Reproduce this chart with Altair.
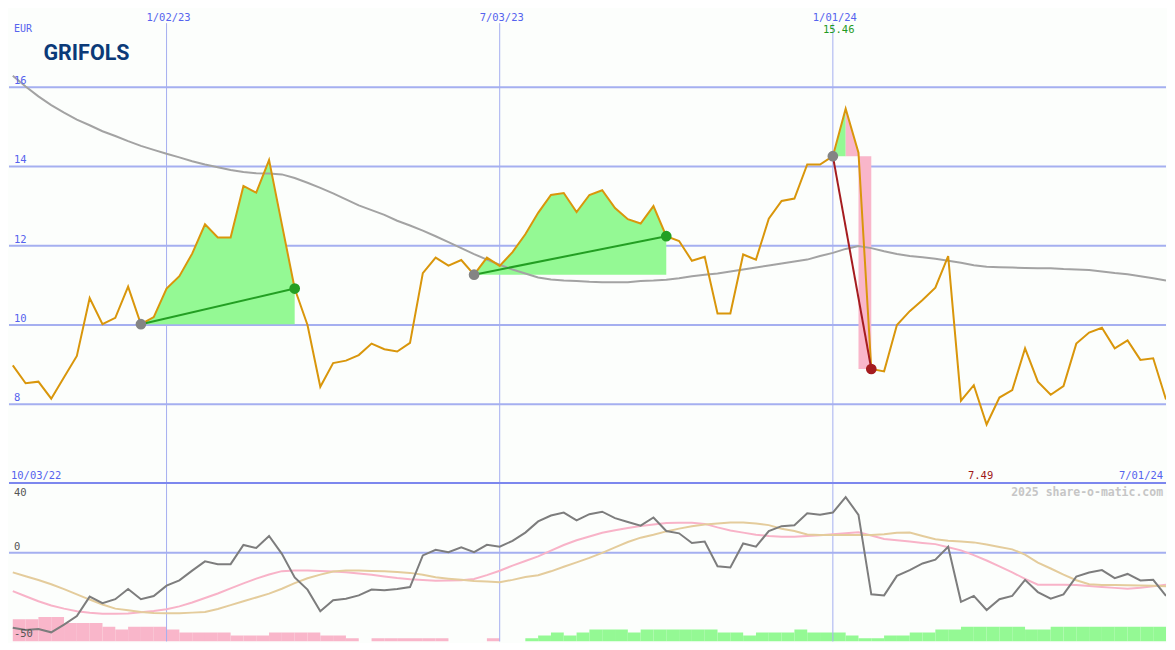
import altair as alt
import pandas as pd

# ------------------------------------------------------------------ data
first_week = "2022-10-10"          # weekly closes, one per Monday
price = [8.98, 8.53, 8.57, 8.14, 8.68, 9.22, 10.68, 10.02, 10.18, 10.97,
         10.02, 10.20, 10.92, 11.23, 11.80, 12.54, 12.21, 12.21, 13.51, 13.34,
         14.16, 12.54, 10.92, 10.00, 8.44, 9.04, 9.10, 9.24, 9.53, 9.39,
         9.33, 9.55, 11.31, 11.70, 11.50, 11.64, 11.27, 11.70, 11.49, 11.84,
         12.29, 12.83, 13.28, 13.33, 12.85, 13.28, 13.40, 12.95, 12.67, 12.56,
         13.00, 12.24, 12.12, 11.62, 11.72, 10.29, 10.29, 11.78, 11.65, 12.68,
         13.13, 13.19, 14.05, 14.05, 14.26, 15.46, 14.35, 8.89, 8.83, 10.00,
         10.35, 10.63, 10.94, 11.74, 8.09, 8.48, 7.49, 8.17, 8.36, 9.41,
         8.57, 8.24, 8.46, 9.53, 9.81, 9.93, 9.41, 9.61, 9.12, 9.16,
         8.12]
long_ma = [16.29, 16.02, 15.77, 15.55, 15.36, 15.18, 15.04, 14.89, 14.77, 14.64,
           14.52, 14.42, 14.32, 14.23, 14.13, 14.05, 13.98, 13.91, 13.86, 13.83,
           13.82, 13.80, 13.71, 13.59, 13.46, 13.32, 13.17, 13.02, 12.90, 12.78,
           12.63, 12.51, 12.38, 12.24, 12.09, 11.94, 11.79, 11.65, 11.52, 11.40,
           11.30, 11.20, 11.15, 11.12, 11.11, 11.09, 11.08, 11.08, 11.08, 11.11,
           11.12, 11.14, 11.18, 11.23, 11.27, 11.30, 11.35, 11.40, 11.45, 11.50,
           11.55, 11.60, 11.65, 11.74, 11.82, 11.92, 11.99, 11.94, 11.86, 11.79,
           11.74, 11.71, 11.67, 11.62, 11.57, 11.51, 11.47, 11.46, 11.45, 11.44,
           11.43, 11.43, 11.41, 11.40, 11.39, 11.35, 11.31, 11.28, 11.23, 11.18,
           11.12]
oscillator = [-43.0, -44.3, -43.7, -45.6, -41.2, -36.3, -25.1, -28.9, -26.6, -20.7,
              -26.6, -24.8, -18.8, -15.8, -10.2, -4.9, -6.5, -6.5, 4.5, 2.8,
              9.7, -0.6, -14.1, -21.1, -33.5, -27.2, -26.3, -24.4, -21.1, -21.4,
              -20.7, -19.6, -1.5, 1.7, 0.4, 3.2, 0.4, 4.6, 3.5, 6.9,
              11.6, 18.0, 21.4, 23.1, 18.6, 22.2, 23.6, 19.9, 17.7, 15.6,
              20.3, 12.5, 11.2, 5.6, 6.5, -7.7, -8.4, 5.4, 3.5, 12.5,
              15.3, 15.8, 22.7, 21.8, 23.1, 32.0, 21.8, -23.8, -24.4, -13.2,
              -9.9, -6.1, -3.9, 3.5, -28.1, -24.7, -32.8, -26.6, -24.7, -15.5,
              -22.5, -26.3, -23.8, -13.6, -11.3, -9.9, -14.5, -12.1, -15.8, -15.5,
              -24.7]
fast_avg = [-22.0, -24.9, -27.8, -30.2, -32.0, -33.5, -34.4, -35.0, -35.0, -34.8,
            -34.1, -33.4, -32.4, -30.7, -28.5, -25.9, -23.3, -20.4, -17.5, -14.8,
            -12.4, -10.5, -10.1, -10.2, -10.4, -10.7, -11.1, -11.9, -12.6, -13.6,
            -14.5, -15.2, -15.6, -16.0, -15.9, -15.7, -15.0, -12.8, -10.3, -7.3,
            -4.7, -2.0, 1.3, 4.5, 7.2, 9.4, 11.5, 12.9, 14.3, 15.4,
            16.3, 17.1, 17.2, 17.2, 16.6, 14.6, 12.8, 11.6, 10.4, 9.6,
            9.2, 9.2, 9.6, 10.1, 10.7, 11.3, 11.8, 9.9, 8.0, 7.2,
            6.5, 5.7, 5.0, 3.2, 1.4, -1.3, -4.4, -7.8, -11.2, -14.9,
            -18.3, -18.3, -18.3, -18.5, -19.0, -19.6, -20.1, -20.6, -20.0, -19.2,
            -18.3]
slow_avg = [-11.2, -13.4, -15.6, -18.0, -20.8, -23.8, -26.8, -29.6, -32.0, -33.0,
            -34.0, -34.5, -34.6, -34.6, -34.3, -33.9, -32.2, -30.0, -27.8, -25.6,
            -23.4, -20.6, -17.4, -14.6, -12.5, -10.7, -10.2, -10.2, -10.4, -10.6,
            -11.0, -11.5, -12.6, -14.0, -14.8, -15.5, -16.1, -16.5, -16.8, -15.5,
            -13.9, -12.9, -10.6, -8.0, -5.5, -2.9, 0.0, 3.1, 6.2, 8.7,
            10.4, 12.3, 13.9, 15.2, 16.3, 16.9, 17.4, 17.4, 16.8, 15.9,
            13.8, 12.5, 10.5, 10.2, 10.2, 10.2, 10.2, 10.2, 10.6, 11.5,
            11.6, 9.7, 7.8, 7.0, 6.5, 6.0, 4.8, 3.4, 2.0, -1.0,
            -5.6, -9.0, -12.5, -15.7, -18.0, -18.4, -18.5, -18.6, -18.7, -18.9,
            -19.2]
histogram = [-12.7, -12.7, -14.0, -14.0, -10.6, -10.6, -10.6, -8.4, -6.9, -8.4,
             -8.4, -8.4, -6.9, -5.2, -5.2, -5.2, -5.2, -3.4, -3.4, -3.4,
             -5.2, -5.2, -5.2, -5.2, -3.4, -3.4, -1.8, 0.0, -1.8, -1.8,
             -1.8, -1.8, -1.8, -1.8, 0.0, 0.0, 0.0, -1.8, 0.0, 0.0,
             1.8, 3.4, 5.2, 3.4, 5.2, 6.9, 6.9, 6.9, 5.2, 6.9,
             6.9, 6.9, 6.9, 6.9, 6.9, 5.2, 5.2, 3.4, 5.2, 5.2,
             5.2, 6.9, 5.2, 5.2, 5.2, 3.4, 1.8, 1.8, 3.4, 3.4,
             5.2, 5.2, 6.9, 6.9, 8.4, 8.4, 8.4, 8.4, 8.4, 6.9,
             6.9, 8.4, 8.4, 8.4, 8.4, 8.4, 8.4, 8.4, 8.4, 8.4,
             8.4]

price_ticks = [8, 10, 12, 14, 16]
grid_dates = ["2023-01-02", "2023-07-03", "2024-01-01"]
grid_labels = ["1/02/23", "7/03/23", "1/01/24"]
start_label = "10/03/22"
end_label = "7/01/24"
currency = "EUR"
company = "GRIFOLS"
watermark = "2025 share-o-matic.com"

buy_idx = [10, 36, 64]
sell_idx = [22, 51, 67]
gain_spans = [(10, 22), (36, 51), (64, 65)]   # green shading
giveback_spans = [(65, 66)]                   # pink shading
drop_spans = [(66, 67)]                       # pink drop block

# ------------------------------------------------------------------ layout
W, H_TOP, H_BOT = 1159, 475, 159
SX, SY = W / 1175, (H_TOP + H_BOT) / 650
X_DOM = [-86.07, 546.0]
Y_TOP_DOM = [6.0197, 17.9853]
Y_BOT_DOM = [-50.838, 40.223]

BG = "#fcfefc"
GRID = "#a5aff0"
SEP = "#7c87ee"
BLUE = "#5563ee"
MONO = "DejaVu Sans Mono"
PRICE_C = "#d9960b"
MA_C = "#a3a3a3"
GREEN_FILL = "#94f994"
PINK_FILL = "#f9b6ca"
DKGREEN = "#239f23"
DKRED = "#a51c1f"

ORIGIN = pd.Timestamp("2023-01-02")
dates = pd.date_range(first_week, periods=len(price), freq="7D")
day = [(t - ORIGIN).days for t in dates]

df = pd.DataFrame({"d": day, "price": price, "ma": long_ma, "osc": oscillator,
                   "fast": fast_avg, "slow": slow_avg, "hist": histogram})
df["d2"] = df["d"].shift(-1).fillna(df["d"].iloc[-1] + 7)

xs = alt.Scale(domain=X_DOM, nice=False, zero=False)
yt = alt.Scale(domain=Y_TOP_DOM, nice=False, zero=False)
yb = alt.Scale(domain=Y_BOT_DOM, nice=False, zero=False)


def xenc(f="d"):
    return alt.X(f"{f}:Q", scale=xs, axis=None)


def ytop(f):
    return alt.Y(f"{f}:Q", scale=yt, axis=None)


def ybot(f):
    return alt.Y(f"{f}:Q", scale=yb, axis=None)


def span_rows(spans, entry_from):
    rows = []
    for s, (a, b) in enumerate(spans):
        for k in range(a, b + 1):
            rows.append({"seg": s, "d": day[k], "price": price[k], "entry": price[entry_from[s]]})
    return pd.DataFrame(rows)


gain_df = span_rows(gain_spans, [a for a, _ in gain_spans][:2] + [buy_idx[2]])
give_df = span_rows(giveback_spans, [buy_idx[2]])
drop_df = pd.DataFrame([{"d": day[a], "d2": day[b], "top": price[buy_idx[2]], "bot": price[b]}
                        for a, b in drop_spans])

trade_rows, dot_rows = [], []
for t, (b, s) in enumerate(zip(buy_idx, sell_idx)):
    res = "win" if price[s] > price[b] else "loss"
    trade_rows += [{"trade": t, "d": day[b], "v": price[b], "res": res},
                   {"trade": t, "d": day[s], "v": price[s], "res": res}]
    dot_rows += [{"d": day[b], "v": price[b], "kind": "buy"},
                 {"d": day[s], "v": price[s], "kind": res}]
trade_df = pd.DataFrame(trade_rows)
dot_df = pd.DataFrame(dot_rows)

grid_df = pd.DataFrame({"d": [(pd.Timestamp(g) - ORIGIN).days for g in grid_dates],
                        "t": grid_labels})
ptick_df = pd.DataFrame({"v": price_ticks, "t": [str(v) for v in price_ticks]})
imax, imin = int(pd.Series(price).idxmax()), int(pd.Series(price).idxmin())
max_df = pd.DataFrame({"d": [day[imax]], "t": [f"{price[imax]:.2f}"]})
min_df = pd.DataFrame({"d": [day[imin]], "t": [f"{price[imin]:.2f}"]})


def const_text(txt, **kw):
    return alt.Chart(pd.DataFrame({"t": [txt]})).mark_text(**kw)


# ------------------------------------------------------------------ top panel
top_layers = [
    alt.Chart(ptick_df).mark_rule(color=GRID, strokeWidth=2).encode(y=ytop("v")),
    alt.Chart(grid_df).mark_rule(color=GRID, strokeWidth=1).encode(
        x=xenc(), y=alt.value(15 * SY), y2=alt.value(H_TOP)),
    alt.Chart(gain_df).mark_area(color=GREEN_FILL, opacity=1, clip=True).encode(
        x=xenc(), y=ytop("price"), y2=alt.Y2("entry:Q"), detail="seg:N"),
    alt.Chart(give_df).mark_area(color=PINK_FILL, opacity=1, clip=True).encode(
        x=xenc(), y=ytop("price"), y2=alt.Y2("entry:Q"), detail="seg:N"),
    alt.Chart(drop_df).mark_rect(color=PINK_FILL, opacity=1, clip=True).encode(
        x=xenc(), x2=alt.X2("d2:Q"), y=ytop("top"), y2=alt.Y2("bot:Q")),
    alt.Chart(df).mark_line(color=MA_C, strokeWidth=2, clip=True).encode(x=xenc(), y=ytop("ma")),
    alt.Chart(df).mark_line(color=PRICE_C, strokeWidth=2, clip=True).encode(x=xenc(), y=ytop("price")),
    alt.Chart(trade_df).mark_line(strokeWidth=2, clip=True).encode(
        x=xenc(), y=ytop("v"), detail="trade:N",
        color=alt.Color("res:N", scale=alt.Scale(domain=["win", "loss"], range=[DKGREEN, DKRED]),
                        legend=None)),
    alt.Chart(dot_df).mark_circle(size=115, opacity=1, clip=True).encode(
        x=xenc(), y=ytop("v"),
        color=alt.Color("kind:N", scale=alt.Scale(domain=["buy", "win", "loss"],
                                                  range=["#848484", DKGREEN, DKRED]),
                        legend=None)),
    alt.Chart(ptick_df).mark_text(font=MONO, fontSize=10.5, color=BLUE, align="left",
                                  baseline="alphabetic", dy=-3).encode(
        x=alt.value(5 * SX), y=ytop("v"), text="t:N"),
    alt.Chart(grid_df).mark_text(font=MONO, fontSize=10.5, color=BLUE, align="center",
                                 baseline="alphabetic", dx=2).encode(
        x=xenc(), y=alt.value(13 * SY), text="t:N"),
    alt.Chart(max_df).mark_text(font=MONO, fontSize=10.5, color="#1f9a1f", align="center",
                                baseline="alphabetic", dx=-7).encode(
        x=xenc(), y=alt.value(25 * SY), text="t:N"),
    alt.Chart(min_df).mark_text(font=MONO, fontSize=10.5, color="#a01818", align="center",
                                baseline="alphabetic", dx=-6).encode(
        x=xenc(), y=alt.value(483 * SY), text="t:N"),
    const_text(currency, font=MONO, fontSize=10, color=BLUE, align="left",
               baseline="alphabetic").encode(x=alt.value(5 * SX), y=alt.value(24.5 * SY), text="t:N"),
    const_text(company, font="Roboto", fontWeight="bold", fontSize=21.5, color="#0b3a78",
               align="left", baseline="alphabetic").encode(
        x=alt.value(35 * SX), y=alt.value(52.5 * SY), text="t:N"),
    const_text(start_label, font=MONO, fontSize=10.5, color=BLUE, align="left",
               baseline="alphabetic").encode(x=alt.value(2 * SX), y=alt.value(483 * SY), text="t:N"),
    const_text(end_label, font=MONO, fontSize=10.5, color=BLUE, align="right",
               baseline="alphabetic").encode(x=alt.value(1172 * SX), y=alt.value(483 * SY), text="t:N"),
]
top = alt.layer(*top_layers).resolve_scale(color="independent").properties(width=W, height=H_TOP)

# ------------------------------------------------------------------ bottom panel
BASE = Y_BOT_DOM[0]
bars = df[df["hist"] != 0].copy()
bars["top"] = BASE + bars["hist"].abs()
bars["base"] = BASE
neg_bars = bars[bars["hist"] < 0]
pos_bars = bars[bars["hist"] > 0]

bot_layers = [
    alt.Chart(neg_bars).mark_rect(color=PINK_FILL, clip=True).encode(
        x=xenc(), x2=alt.X2("d2:Q"), y=ybot("top"), y2=alt.Y2("base:Q")),
    alt.Chart(pos_bars).mark_rect(color=GREEN_FILL, clip=True).encode(
        x=xenc(), x2=alt.X2("d2:Q"), y=ybot("top"), y2=alt.Y2("base:Q")),
    alt.Chart(grid_df).mark_rule(color=GRID, strokeWidth=1).encode(x=xenc()),
    alt.Chart(pd.DataFrame({"v": [0]})).mark_rule(color=GRID, strokeWidth=2).encode(y=ybot("v")),
    alt.Chart(pd.DataFrame({"v": [40]})).mark_rule(color=SEP, strokeWidth=2).encode(y=ybot("v")),
    alt.Chart(df).mark_line(color="#f8b3c8", strokeWidth=2, clip=True).encode(x=xenc(), y=ybot("fast")),
    alt.Chart(df).mark_line(color="#e4cc9c", strokeWidth=2, clip=True).encode(x=xenc(), y=ybot("slow")),
    alt.Chart(df).mark_line(color="#7d7d7d", strokeWidth=2, clip=True).encode(x=xenc(), y=ybot("osc")),
    alt.Chart(pd.DataFrame({"v": [40], "t": ["40"]})).mark_text(
        font=MONO, fontSize=10.5, color="#555555", align="left", baseline="alphabetic", dy=12.5).encode(
        x=alt.value(5 * SX), y=ybot("v"), text="t:N"),
    alt.Chart(pd.DataFrame({"v": [0, -50], "t": ["0", "-50"]})).mark_text(
        font=MONO, fontSize=10.5, color="#555555", align="left", baseline="alphabetic", dy=-3).encode(
        x=alt.value(5 * SX), y=ybot("v"), text="t:N"),
    const_text(watermark, font=MONO, fontSize=11.5, fontWeight="bold", color="#c6c6c6",
               align="right", baseline="alphabetic").encode(
        x=alt.value(1172 * SX), y=alt.value((500.5 - 487) * SY), text="t:N"),
]
bottom = alt.layer(*bot_layers).properties(width=W, height=H_BOT)

chart = (alt.vconcat(top, bottom, spacing=0, bounds="flush")
         .properties(padding=0, background=BG)
         .configure_view(strokeWidth=0))

chart.save("out.html", embed_options={"renderer": "svg", "actions": False})
